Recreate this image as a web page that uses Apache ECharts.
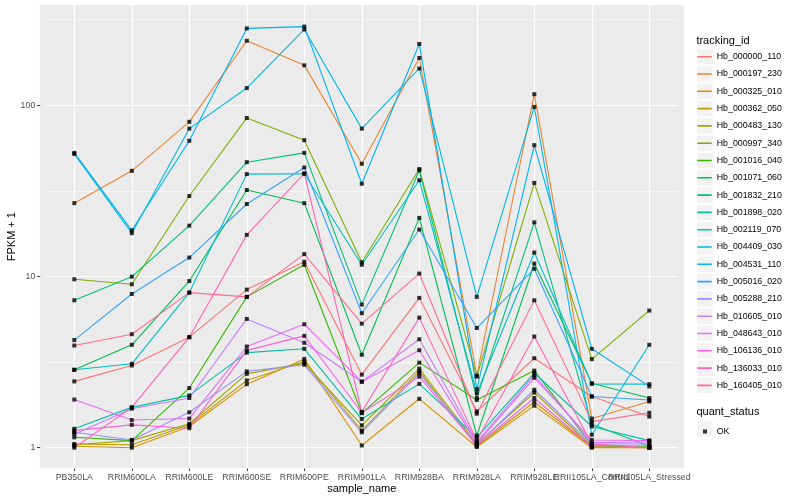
<!DOCTYPE html>
<html><head><meta charset="utf-8">
<script src="https://cdn.jsdelivr.net/npm/echarts@6/dist/echarts.min.js"></script>
<style>html,body{margin:0;padding:0;background:#fff}#c{width:800px;height:500px}</style>
</head><body><div id="c"></div>
<script>
const categories = ['PB350LA','RRIM600LA','RRIM600LE','RRIM600SE','RRIM600PE','RRIM901LA','RRIM928BA','RRIM928LA','RRIM928LE','RRII105LA_Control','RRII105LA_Stressed'];
const trackingIds = ['Hb_000000_110','Hb_000197_230','Hb_000325_010','Hb_000362_050','Hb_000483_130','Hb_000997_340','Hb_001016_040','Hb_001071_060','Hb_001832_210','Hb_001898_020','Hb_002119_070','Hb_004409_030','Hb_004531_110','Hb_005016_020','Hb_005288_210','Hb_010605_010','Hb_048643_010','Hb_106136_010','Hb_136033_010','Hb_160405_010'];
const seriesColors = ['#F8766D','#EA8331','#D89000','#C09B00','#A3A500','#7CAE00','#39B600','#00BB4E','#00BF7D','#00C1A3','#00BFC4','#00BAE0','#00B0F6','#35A2FF','#9590FF','#C77CFF','#E76BF3','#FA62DB','#FF62BC','#FF6C91'];

const hb_000000_110 = [2.44, 3.02, 4.42, 8.38, 12.2, 2.67, 7.5, 1.63, 3.33, 1.99, 1.52];
const hb_000197_230 = [26.8, 41.4, 80, 238, 171, 45.5, 189, 2.64, 116, 1.48, 1.86];
const hb_000325_010 = [1.02, 1.0, 1.33, 2.35, 3.3, 1.03, 1.93, 1.01, 1.76, 1.0, 1.0];
const hb_000362_050 = [1.05, 1.04, 1.36, 2.47, 3.19, 1.26, 2.8, 1.02, 1.85, 1.01, 1.0];
const hb_000483_130 = [1.04, 1.1, 1.38, 2.7, 3.12, 1.35, 2.9, 1.05, 2.1, 1.02, 1.01];
const hb_000997_340 = [9.63, 9.0, 29.5, 84.3, 62.5, 12.1, 42.4, 2.6, 35.2, 3.29, 6.32];
const hb_001016_040 = [1.15, 1.1, 2.23, 7.6, 11.7, 1.59, 3.14, 1.9, 2.82, 1.03, 1.02];
const hb_001071_060 = [2.85, 3.99, 9.4, 32, 26.8, 3.49, 22, 1.18, 11.9, 2.38, 1.95];
const hb_001832_210 = [7.26, 9.97, 19.8, 46.5, 52.7, 6.85, 41.7, 1.95, 20.7, 1.37, 1.02];
const hb_001898_020 = [1.29, 1.72, 2.02, 3.59, 3.78, 1.47, 2.36, 1.15, 2.73, 1.33, 1.1];
const hb_002119_070 = [2.85, 3.09, 8.05, 39.6, 39.8, 11.7, 36.5, 2.08, 13.8, 2.36, 2.35];
const hb_004409_030 = [52.0, 17.9, 73, 126, 277, 73, 164, 7.6, 97.8, 1.19, 3.99];
const hb_004531_110 = [52.7, 18.6, 62, 281, 288, 34.8, 228, 2.2, 58.5, 3.78, 2.28];
const hb_005016_020 = [4.25, 7.9, 12.9, 26.5, 43.3, 6.1, 18.8, 5.0, 11.1, 1.99, 1.9];
const hb_005288_210 = [1.23, 1.11, 1.61, 2.79, 3.05, 1.23, 2.72, 1.04, 2.18, 1.05, 1.05];
const hb_010605_010 = [1.2, 1.69, 1.95, 5.65, 4.1, 2.43, 4.3, 1.08, 2.65, 1.07, 1.08];
const hb_048643_010 = [1.91, 1.45, 1.48, 3.9, 5.26, 2.43, 3.71, 1.06, 2.56, 1.11, 1.1];
const hb_106136_010 = [1.26, 1.36, 1.3, 3.7, 4.5, 1.6, 2.6, 1.03, 1.95, 1.01, 1.0];
const hb_136033_010 = [1.0, 1.72, 4.42, 17.5, 40, 1.62, 5.75, 1.1, 4.46, 1.05, 1.0];
const hb_160405_010 = [3.95, 4.6, 8.05, 7.6, 13.5, 5.3, 10.4, 1.58, 7.26, 1.42, 1.6];

const seriesValues = [hb_000000_110, hb_000197_230, hb_000325_010, hb_000362_050, hb_000483_130, hb_000997_340, hb_001016_040, hb_001071_060, hb_001832_210, hb_001898_020, hb_002119_070, hb_004409_030, hb_004531_110, hb_005016_020, hb_005288_210, hb_010605_010, hb_048643_010, hb_106136_010, hb_136033_010, hb_160405_010];

const yMajorBreaks = [1, 10, 100];
const yTickLabels = ['1', '10', '100'];
const yMinorBreaks = [3.1623, 31.623, 316.23];
const quantStatus = ['OK'];

const FONT = 'Liberation Sans, Arial, Helvetica, sans-serif';
const chart = echarts.init(document.getElementById('c'), null, {renderer: 'canvas'});

const gridLines = [];
yMajorBreaks.forEach(v => gridLines.push({yAxis: v, lineStyle: {width: 1.2}}));
yMinorBreaks.forEach(v => gridLines.push({yAxis: v, lineStyle: {width: 0.6}}));
categories.forEach(c => gridLines.push({xAxis: c, lineStyle: {width: 1.2}}));

// legend key glyph: a horizontal line centred in a 14.5 x 17.3 key
const LINE_KEY = 'path://M0,0L0.01,0L0.01,0.01Z M0,120L0.01,120L0.01,119.99Z M0,54.5L100,54.5L100,65.5L0,65.5Z';

const series = [];
series.push({
  name: '_grid', type: 'line', data: [], silent: true, z: 1,
  markLine: {
    silent: true, z: 1, symbol: ['none', 'none'], label: {show: false},
    lineStyle: {type: 'solid', color: '#FFFFFF', width: 1.2},
    emphasis: {disabled: true},
    data: gridLines, animation: false
  }
});
trackingIds.forEach((id, i) => {
  series.push({
    name: id, type: 'line', data: seriesValues[i], symbol: 'none', showSymbol: false,
    lineStyle: {color: seriesColors[i], width: 1.1}, itemStyle: {color: seriesColors[i]},
    z: 2, silent: true, animation: false
  });
});
const pts = [];
seriesValues.forEach(arr => arr.forEach((v, j) => pts.push([categories[j], v])));
series.push({
  name: quantStatus[0], type: 'scatter', data: pts, symbol: 'rect', symbolSize: 4,
  itemStyle: {color: '#000000'}, z: 3, silent: true, animation: false
});

const graphics = [
  {type: 'rect', z: -10, silent: true, shape: {x: 39.8, y: 5, width: 644, height: 463.3}, style: {fill: '#EBEBEB'}},
  {type: 'text', z: 10, x: 696.4, y: 41, style: {text: 'tracking_id', fontSize: 11, fontFamily: FONT, fill: '#000', verticalAlign: 'middle'}},
  {type: 'text', z: 10, x: 696.4, y: 412.3, style: {text: 'quant_status', fontSize: 11, fontFamily: FONT, fill: '#000', verticalAlign: 'middle'}}
];
trackingIds.forEach((id, i) => {
  graphics.push({type: 'rect', z: -5, silent: true, shape: {x: 697.3, y: 56.7 + 17.3 * i - 7.6, width: 15.4, height: 15.2}, style: {fill: '#F2F2F2'}});
});
graphics.push({type: 'rect', z: -5, silent: true, shape: {x: 697.3, y: 429 - 7.6, width: 15.4, height: 15.2}, style: {fill: '#F2F2F2'}});

chart.setOption({
  animation: false,
  backgroundColor: '#FFFFFF',
  textStyle: {fontFamily: FONT},
  grid: {left: 45.55, right: 121.95, top: 5, bottom: 31.7, containLabel: false, outerBoundsMode: 'none', show: false},
  graphic: graphics,
  xAxis: {
    type: 'category', data: categories, boundaryGap: true,
    axisLine: {show: false},
    axisTick: {show: true, alignWithLabel: true, length: 2.7, lineStyle: {color: '#333333', width: 1}},
    axisLabel: {interval: 0, hideOverlap: false, color: '#4D4D4D', fontSize: 8.8, margin: 4.5, fontFamily: FONT},
    splitLine: {show: false},
    name: 'sample_name', nameLocation: 'middle', nameGap: 15, nameMoveOverlap: false,
    nameTextStyle: {color: '#000', fontSize: 11, fontFamily: FONT}
  },
  yAxis: {
    type: 'log', logBase: 10, min: 0.758, max: 385, offset: 5.75,
    axisLine: {show: false},
    axisTick: {show: true, customValues: yMajorBreaks, length: 2.7, lineStyle: {color: '#333333', width: 1}},
    axisLabel: {
      customValues: yMajorBreaks,
      color: '#4D4D4D', fontSize: 8.8, margin: 4.5, fontFamily: FONT,
      formatter: function (v) {
        for (let k = 0; k < yMajorBreaks.length; k++) {
          if (Math.abs(v - yMajorBreaks[k]) < 1e-6 * yMajorBreaks[k]) return yTickLabels[k];
        }
        return '';
      }
    },
    splitLine: {show: false}, minorSplitLine: {show: false},
    name: 'FPKM + 1', nameLocation: 'middle', nameGap: 22, nameRotate: 90, nameMoveOverlap: false,
    nameTextStyle: {color: '#000', fontSize: 11, fontFamily: FONT}
  },
  legend: [
    {
      data: trackingIds, orient: 'vertical', left: 697.3, top: 48.05, padding: 0,
      icon: LINE_KEY,
      itemWidth: 14.5, itemHeight: 17.3, itemGap: 0, selectedMode: false,
      itemStyle: {borderWidth: 0}, lineStyle: {width: 0},
      textStyle: {fontSize: 8.8, color: '#000', fontFamily: FONT}
    },
    {
      data: quantStatus, orient: 'vertical', left: 703, top: 427, padding: 0,
      itemWidth: 4, itemHeight: 4, itemGap: 0, selectedMode: false,
      textStyle: {fontSize: 8.8, color: '#000', fontFamily: FONT, padding: [0, 0, 0, 4.7]}
    }
  ],
  series: series
});
</script></body></html>
